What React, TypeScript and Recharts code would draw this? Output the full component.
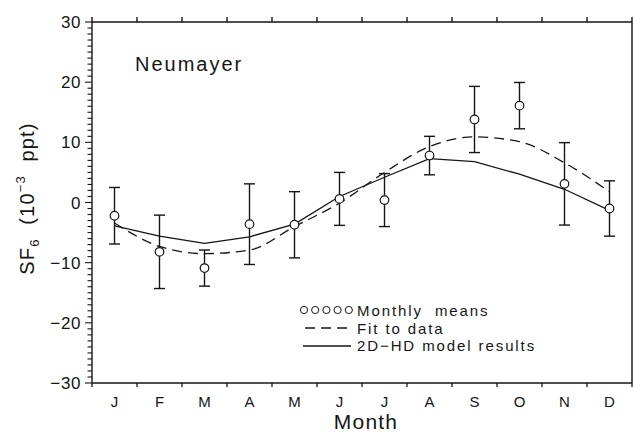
import { ComposedChart, Line, Scatter, ErrorBar, XAxis, YAxis, Legend } from 'recharts';

const MONTHS = ['J', 'F', 'M', 'A', 'M', 'J', 'J', 'A', 'S', 'O', 'N', 'D'];
const MEANS = [-2.2, -8.2, -10.9, -3.6, -3.7, 0.6, 0.4, 7.8, 13.8, 16.1, 3.1, -1.0];
const ERRORS = [4.7, 6.1, 3.0, 6.7, 5.5, 4.4, 4.4, 3.2, 5.5, 3.85, 6.85, 4.6];
const FIT = [-3.4, -7.3, -8.5, -7.9, -4.0, -0.1, 5.0, 9.3, 10.9, 10.1, 6.6, 1.8];
const MODEL = [-3.9, -5.6, -6.8, -5.7, -3.6, 1.0, 4.2, 7.3, 6.8, 4.7, 2.2, -1.3];
const Y_MAJOR = [-30, -20, -10, 0, 10, 20, 30];

const INK = '#151515';
const FONT = '"Liberation Sans", Arial, sans-serif';

const data = MONTHS.map((m, i) => ({
  x: i + 0.5,
  month: m,
  mean: MEANS[i],
  err: ERRORS[i],
  fit: FIT[i],
  model: MODEL[i],
}));

// month boundaries (tick marks) and month centres (labels)
const boundaryTicks = [...MONTHS.map((_, i) => i), MONTHS.length];
const bottomTicks = [...boundaryTicks, ...data.map(d => d.x)].sort((a, b) => a - b);
// minor ticks every 1 unit between the major ones
const yMinorTicks: number[] = [];
for (let v = Y_MAJOR[0]; v <= Y_MAJOR[Y_MAJOR.length - 1]; v++) yMinorTicks.push(v);

const fmt = (v: number) => (v < 0 ? '\u2212' + Math.abs(v) : String(v));

const MonthTick = (props: any) => {
  const { x, y, payload } = props;
  const v = payload.value;
  if (Number.isInteger(v)) {
    return <line x1={x} x2={x} y1={y} y2={y + 4} stroke={INK} strokeWidth={1.3} />;
  }
  return (
    <text x={x} y={y + 24} textAnchor="middle" fontSize={15} fontFamily={FONT} fill={INK}>
      {MONTHS[Math.floor(v)]}
    </text>
  );
};

const LeftTick = (props: any) => {
  const { x, y, payload } = props;
  const v = payload.value;
  const major = Y_MAJOR.includes(v);
  return (
    <g>
      <line x1={x - (major ? 7 : 4.5)} x2={x} y1={y} y2={y} stroke={INK} strokeWidth={1.1} />
      {major && (
        <text x={x - 11} y={y} dy="0.36em" textAnchor="end" fontSize={17} letterSpacing={0.6} fontFamily={FONT} fill={INK}>
          {fmt(v)}
        </text>
      )}
    </g>
  );
};

const YLabel = (props: any) => {
  const vb = props.viewBox || { x: 0, y: 0, width: 92, height: 361 };
  const cx = 34;
  const cy = vb.y + vb.height / 2 - 4;
  return (
    <text
      x={cx}
      y={cy}
      transform={`rotate(-90 ${cx} ${cy})`}
      textAnchor="middle"
      fontSize={20}
      letterSpacing={1.2}
      fontFamily={FONT}
      fill={INK}
      style={{ whiteSpace: 'pre' }}
    >
      SF
      <tspan fontSize={13} dy={5}>6</tspan>
      <tspan dy={-5}>  (10</tspan>
      <tspan fontSize={13} dy={-9}>{'\u22123'}</tspan>
      <tspan dy={9}>  ppt)</tspan>
    </text>
  );
};

const LegendContent = () => (
  <svg width={260} height={58} style={{ display: 'block' }}>
    {[0, 1, 2, 3, 4].map(i => (
      <circle key={i} cx={8 + i * 11.2} cy={10} r={3.6} fill="none" stroke={INK} strokeWidth={1} />
    ))}
    <line x1={9} x2={55} y1={28} y2={28} stroke={INK} strokeWidth={1.3} strokeDasharray="10 6" />
    <line x1={7} x2={55} y1={46} y2={46} stroke={INK} strokeWidth={1.3} />
    {['Monthly  means', 'Fit to data', '2D\u2212HD model results'].map((t, i) => (
      <text
        key={t}
        x={61}
        y={16 + i * 17.6}
        fontSize={15}
        letterSpacing={1.9}
        fontFamily={FONT}
        fill={INK}
        style={{ whiteSpace: 'pre' }}
      >
        {t}
      </text>
    ))}
  </svg>
);

export default function App() {
  return (
    <div style={{ position: 'absolute', left: 0, top: 0, width: 634, height: 433, background: '#fff' }}>
      <ComposedChart width={634} height={433} data={data} margin={{ top: 0, right: 0, bottom: 0, left: 0 }}>
        <XAxis
          xAxisId="top"
          orientation="top"
          type="number"
          dataKey="x"
          domain={[0, 12]}
          ticks={boundaryTicks}
          interval={0}
          height={22}
          tickSize={5}
          tickFormatter={() => ''}
          stroke={INK}
          strokeWidth={1.4}
        />
        <XAxis
          xAxisId="bottom"
          type="number"
          dataKey="x"
          domain={[0, 12]}
          ticks={bottomTicks}
          interval={0}
          height={50}
          tickSize={0}
          tickMargin={0}
          tickLine={false}
          tick={<MonthTick />}
          stroke={INK}
          strokeWidth={1.4}
          label={{ value: 'Month', position: 'insideBottom', offset: 4, fontSize: 21, letterSpacing: 1.2, fill: INK, fontFamily: FONT, dx: 4 }}
        />
        <YAxis
          yAxisId="left"
          type="number"
          domain={[-30, 30]}
          ticks={yMinorTicks}
          interval={0}
          width={92}
          tickSize={0}
          tickMargin={0}
          tickLine={false}
          tick={<LeftTick />}
          stroke={INK}
          strokeWidth={1.4}
          label={<YLabel />}
        />
        <YAxis
          yAxisId="right"
          orientation="right"
          type="number"
          domain={[-30, 30]}
          ticks={yMinorTicks}
          interval={0}
          width={2}
          tickSize={3}
          tickFormatter={() => ''}
          stroke={INK}
          strokeWidth={1.4}
        />
        <Legend
          layout="vertical"
          align="center"
          verticalAlign="middle"
          content={<LegendContent />}
          wrapperStyle={{ left: 296, top: 300, width: 260, height: 58 }}
        />
        <Scatter
          xAxisId="bottom"
          yAxisId="left"
          dataKey="mean"
          name="Monthly means"
          isAnimationActive={false}
          shape={(p: any) => <circle cx={p.cx} cy={p.cy} r={4.3} fill="#fff" stroke={INK} strokeWidth={1.2} />}
        >
          <ErrorBar dataKey="err" direction="y" width={5.5} stroke={INK} strokeWidth={1.4} />
        </Scatter>
        <Line
          xAxisId="bottom"
          yAxisId="left"
          dataKey="fit"
          name="Fit to data"
          type="monotone"
          stroke={INK}
          strokeWidth={1.3}
          strokeDasharray="10 6"
          dot={false}
          activeDot={false}
          isAnimationActive={false}
        />
        <Line
          xAxisId="bottom"
          yAxisId="left"
          dataKey="model"
          name="2D-HD model results"
          type="linear"
          stroke={INK}
          strokeWidth={1.3}
          dot={false}
          activeDot={false}
          isAnimationActive={false}
        />
      </ComposedChart>
      <div
        style={{
          position: 'absolute',
          left: 135,
          top: 54,
          fontFamily: FONT,
          fontSize: 20,
          lineHeight: '20px',
          letterSpacing: 2,
          color: INK,
        }}
      >
        Neumayer
      </div>
    </div>
  );
}
